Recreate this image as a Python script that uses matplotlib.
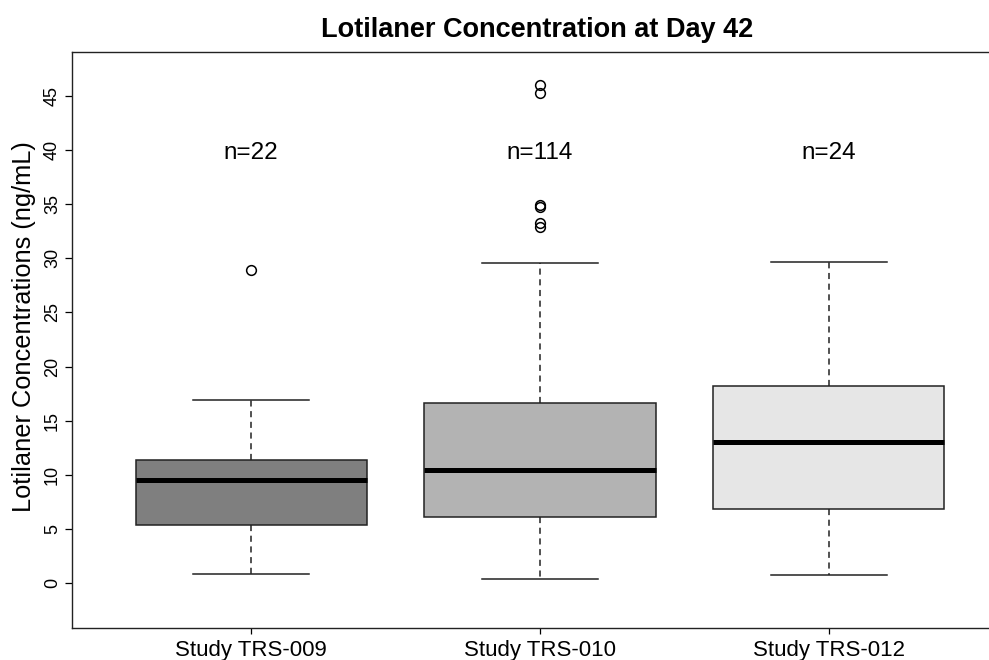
import matplotlib
matplotlib.use("Agg")
import matplotlib.pyplot as plt

plt.rcParams["font.family"] = ["Liberation Sans", "DejaVu Sans"]

# Data
studies = ["Study TRS-009", "Study TRS-010", "Study TRS-012"]
n_counts = [22, 114, 24]
whisker_low = [0.8, 0.37, 0.74]
q1 = [5.33, 6.07, 6.81]
medians = [9.55, 10.44, 13.06]
q3 = [11.4, 16.66, 18.18]
whisker_high = [16.9, 29.6, 29.64]
outliers = [
    [28.9],
    [46.0, 45.3, 34.9, 34.7, 33.3, 32.9],
    [],
]
box_colors = ["#7f7f7f", "#b3b3b3", "#e6e6e6"]

stats = []
for i in range(len(studies)):
    stats.append({
        "label": studies[i],
        "whislo": whisker_low[i],
        "q1": q1[i],
        "med": medians[i],
        "q3": q3[i],
        "whishi": whisker_high[i],
        "fliers": outliers[i],
    })

fig = plt.figure(figsize=(9.89, 6.6), dpi=100)
# right edge of the plot box runs off the image, as in the original
ax = fig.add_axes([72 / 989, 32 / 660, 936 / 989, 576 / 660])

positions = [1, 2, 3]
bp = ax.bxp(
    stats,
    positions=positions,
    widths=0.8,
    patch_artist=True,
    capwidths=0.4,
    boxprops=dict(linewidth=1.1, edgecolor="#222222"),
    medianprops=dict(color="black", linewidth=3.6, solid_capstyle="butt"),
    whiskerprops=dict(color="#222222", linewidth=1.1, linestyle=(0, (4, 3))),
    capprops=dict(color="#222222", linewidth=1.1),
    flierprops=dict(marker="o", markerfacecolor="none", markeredgecolor="black",
                    markersize=7, markeredgewidth=1.1),
)
for patch, c in zip(bp["boxes"], box_colors):
    patch.set_facecolor(c)

for x, n in zip(positions, n_counts):
    ax.text(x, 39.7, f"n={n}", ha="center", va="center", fontsize=17.5)

ax.set_xlim(0.38, 3.62)
ax.set_ylim(-4.16, 49.07)
ax.set_yticks(range(0, 50, 5))
ax.set_yticklabels([str(v) for v in range(0, 50, 5)], rotation=90, va="center",
                   fontsize=13)
ax.set_xticks(positions)
ax.set_xticklabels(studies, fontsize=16)
ax.tick_params(axis="y", length=5, width=0.9, pad=3)
ax.tick_params(axis="x", length=4.5, width=0.9, pad=4)

for s in ax.spines.values():
    s.set_linewidth(1.0)
    s.set_color("#222222")

ax.set_ylabel("Lotilaner Concentrations (ng/mL)", fontsize=18.3)
ax.yaxis.set_label_coords(-0.0385, 0.5226)
fig.text(537 / 989, 1 - 30 / 660, "Lotilaner Concentration at Day 42",
         ha="center", va="center", fontsize=19.5, fontweight="bold")

fig.savefig("out.png", dpi=100)
